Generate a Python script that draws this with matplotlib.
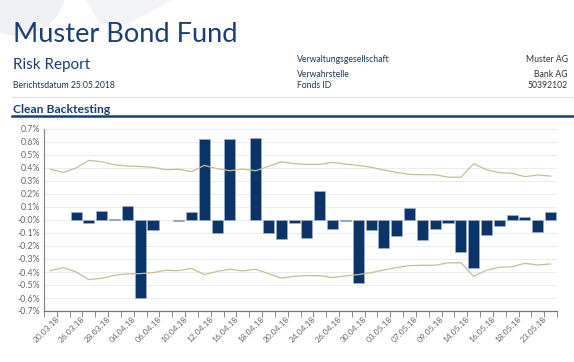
import matplotlib
matplotlib.use("Agg")
import matplotlib.pyplot as plt
import numpy as np
from matplotlib.ticker import FixedLocator, FuncFormatter
from matplotlib.transforms import ScaledTranslation
from matplotlib.patches import Circle, Polygon

plt.rcParams['font.family'] = ['Lato', 'DejaVu Sans']

# ---- data ----
dates = ["20.03.18", "21.03.18", "26.03.18", "27.03.18", "28.03.18", "29.03.18",
         "04.04.18", "05.04.18", "06.04.18", "09.04.18", "10.04.18", "11.04.18",
         "12.04.18", "13.04.18", "16.04.18", "17.04.18", "18.04.18", "19.04.18",
         "20.04.18", "23.04.18", "24.04.18", "25.04.18", "26.04.18", "27.04.18",
         "30.04.18", "02.05.18", "03.05.18", "04.05.18", "07.05.18", "08.05.18",
         "09.05.18", "11.05.18", "14.05.18", "15.05.18", "16.05.18", "17.05.18",
         "18.05.18", "22.05.18", "23.05.18", "24.05.18"]

pnl = [np.nan, np.nan, 0.06, -0.02, 0.07, 0.01, 0.11, -0.60, -0.08, np.nan,
       -0.01, 0.06, 0.62, -0.10, 0.62, np.nan, 0.63, -0.10, -0.15, -0.02,
       -0.14, 0.225, -0.07, -0.005, -0.485, -0.075, -0.215, -0.12, 0.095, -0.155,
       -0.07, -0.025, -0.25, -0.37, -0.115, -0.05, 0.04, 0.025, -0.095, 0.065]

var_upper = [0.39, 0.366, 0.40, 0.459, 0.448, 0.425, 0.415, 0.412, 0.405, 0.387,
             0.39, 0.372, 0.42, 0.395, 0.379, 0.392, 0.379, 0.412, 0.448, 0.433,
             0.428, 0.428, 0.443, 0.43, 0.42, 0.405, 0.385, 0.366, 0.351, 0.348,
             0.348, 0.33, 0.328, 0.433, 0.387, 0.364, 0.359, 0.333, 0.346, 0.338]

var_lower = [-0.39, -0.366, -0.40, -0.459, -0.448, -0.425, -0.415, -0.412, -0.405, -0.387,
             -0.39, -0.372, -0.42, -0.395, -0.379, -0.392, -0.379, -0.412, -0.448, -0.433,
             -0.428, -0.428, -0.443, -0.43, -0.42, -0.405, -0.385, -0.366, -0.351, -0.348,
             -0.348, -0.33, -0.328, -0.433, -0.387, -0.364, -0.359, -0.333, -0.346, -0.338]

y_ticks = [0.7, 0.6, 0.5, 0.4, 0.3, 0.2, 0.1, 0.0, -0.1, -0.2, -0.3, -0.4, -0.5, -0.6, -0.7]

# ---- figure ----
W, H = 574, 362
fig = plt.figure(figsize=(W / 100, H / 100), dpi=100)

def fx(x):
    return x / W

def fy(y):
    return 1 - y / H

navy = '#1b3f72'
bar_c = '#0b3468'
line_c = '#c6bd97'

# faint decoration at top-left
deco = fig.add_axes([0, 0, 1, 1], zorder=-5)
deco.set_xlim(0, W)
deco.set_ylim(H, 0)
deco.axis('off')
deco.add_patch(Circle((18, -12), 48, color='#eef0f4', lw=0))
deco.add_patch(Polygon([[86, 0], [172, 0], [128, 24], [100, 24]], closed=True, color='#f1f3f6', lw=0))

fig.text(fx(13), fy(42), "Muster Bond Fund", fontsize=19.6, color=navy, va='baseline', ha='left')
fig.text(fx(13), fy(69.5), "Risk Report", fontsize=11, color=navy, va='baseline', ha='left')
fig.text(fx(13), fy(88.3), "Berichtsdatum 25.05.2018", fontsize=6.2, color='#1d3556', va='baseline', ha='left')

rows = [("Verwaltungsgesellschaft", "Muster AG", 62.3),
        ("Verwahrstelle", "Bank AG", 77.3),
        ("Fonds ID", "50392102", 88.3)]
for lab, val, yy in rows:
    fig.text(fx(297), fy(yy), lab, fontsize=6.2, color='#1d3556', va='baseline', ha='left')
    fig.text(fx(567.5), fy(yy), val, fontsize=6.2, color='#333333', va='baseline', ha='right')

deco.plot([12, 574], [97.3, 97.3], color='#dddddd', lw=0.8)
fig.text(fx(13), fy(112.7), "Clean Backtesting", fontsize=8.7, color=navy, fontweight='bold', va='baseline', ha='left')
deco.plot([12, 574], [116, 116], color=navy, lw=1.8)

# ---- chart ----
ax = fig.add_axes([fx(44), fy(311), (557 - 44) / W, (311 - 129) / H])
x = np.arange(len(dates))
ax.bar(x, pnl, width=0.86, color=bar_c, edgecolor='#9fb0c8', linewidth=0.5, zorder=3)
ax.plot(x, var_upper, color=line_c, lw=0.9, zorder=4)
ax.plot(x, var_lower, color=line_c, lw=0.9, zorder=4)

ax.set_xlim(-0.5, len(dates) - 0.5)
ax.set_ylim(-0.7, 0.7)

ax.yaxis.set_major_locator(FixedLocator(y_ticks))

def yfmt(v, pos):
    if abs(v) < 1e-9:
        return "-0.0%"
    return "%.1f%%" % v

ax.yaxis.set_major_formatter(FuncFormatter(yfmt))
ax.tick_params(axis='y', length=0, labelsize=6.3, labelcolor='#666666', pad=3)
ax.grid(axis='y', color='#ececec', lw=0.7, zorder=0)

lab_idx = list(range(0, len(dates), 2))
ax.set_xticks(lab_idx)
ax.set_xticklabels([dates[i] for i in lab_idx], rotation=45, ha='right', va='top',
                   rotation_mode='anchor', fontsize=6.0, color='#666666')
ax.set_xticks(np.arange(-0.5, len(dates), 1), minor=True)
ax.tick_params(axis='x', which='major', length=0, pad=3)
ax.tick_params(axis='x', which='minor', length=4, color='#888888', width=0.7)
offset = ScaledTranslation(5 / 100, 0, fig.dpi_scale_trans)
for lbl in ax.get_xticklabels():
    lbl.set_transform(lbl.get_transform() + offset)

for side in ['top', 'right']:
    ax.spines[side].set_visible(False)
ax.spines['left'].set_color('#888888')
ax.spines['left'].set_linewidth(0.9)
ax.spines['bottom'].set_color('#777777')
ax.spines['bottom'].set_linewidth(0.9)
ax.set_facecolor('none')

fig.savefig("out.png", dpi=100)
